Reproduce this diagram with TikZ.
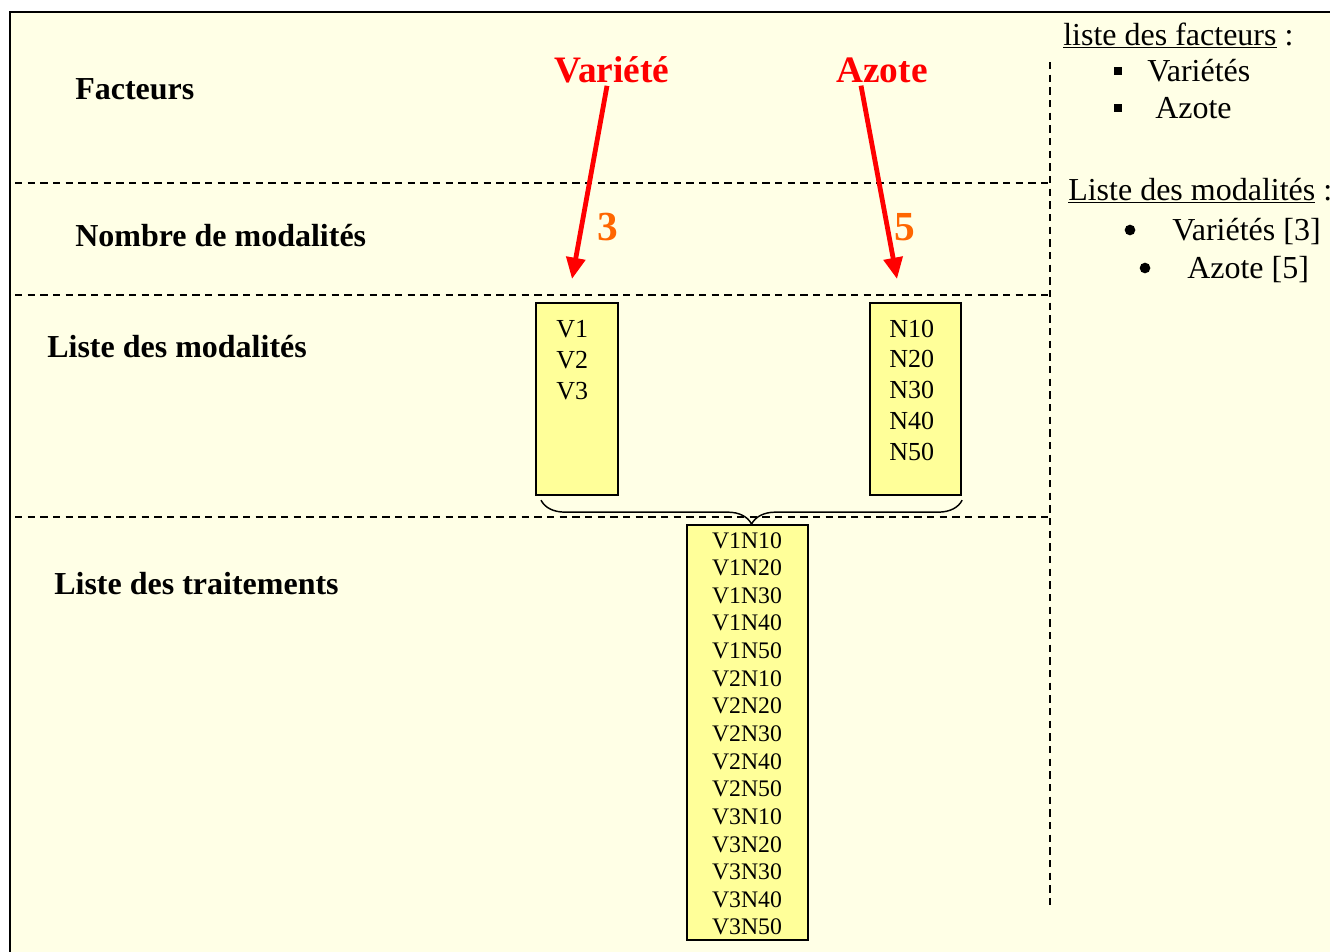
\documentclass[tikz,border=0pt]{standalone}
\usepackage{fontspec}
\setmainfont{Liberation Serif}
\usetikzlibrary{arrows.meta,decorations.pathreplacing,calc}
\definecolor{bg}{RGB}{255,255,230}
\definecolor{boxy}{RGB}{255,255,153}
\definecolor{orng}{RGB}{255,102,0}
\definecolor{redd}{RGB}{255,0,0}
\begin{document}
\begin{tikzpicture}[x=0.75pt,y=-0.75pt,
  lbl/.style={anchor=base west,inner sep=0pt,font=\fontsize{24}{28}\selectfont\bfseries},
  fac/.style={anchor=base,inner sep=0pt,text=redd,font=\fontsize{28}{32}\selectfont\bfseries},
  num/.style={anchor=base,inner sep=0pt,text=orng,font=\fontsize{31}{36}\selectfont\bfseries},
  side/.style={anchor=base west,inner sep=0pt,font=\fontsize{24}{28}\selectfont},
  itm/.style={anchor=base west,inner sep=0pt,font=\fontsize{19.5}{23}\selectfont},
  trt/.style={anchor=base,inner sep=0pt,font=\fontsize{17.8}{21}\selectfont},
  ybox/.style={draw=black,fill=boxy,line width=1.6pt,anchor=north west,inner sep=0pt},
  sep/.style={dash pattern=on 5.5pt off 4pt,line width=1.1pt},
  arr/.style={draw=redd,line width=3.6pt,-{Triangle[length=16pt,width=14pt]}}
]
\useasboundingbox (0,0) rectangle (1330,951);
\clip (0,0) rectangle (1330,951);
\fill[white] (0,0) rectangle (1330,951);
\draw[fill=bg,line width=1.8pt] (10,12) rectangle (1360,980);
% separators
\draw[sep] (15,183) -- (1050,183);
\draw[sep] (15,295) -- (1050,295);
\draw[sep] (15,517) -- (1050,517);
\draw[sep] (1050,62) -- (1050,910);
% left labels
\node[lbl] (lf) at (75,99) {Facteurs};
\node[lbl] (ln) at (75,246) {Nombre de modalités};
\node[lbl] (lm) at (47,357) {Liste des modalités};
\node[lbl] (lt) at (54,594) {Liste des traitements};
% factors
\node[fac] (var) at (612,82) {Variété};
\node[fac] (azo) at (882,82) {Azote};
\coordinate (vtip) at (572,279);
\coordinate (ntip) at (897,279);
\draw[arr] ($(var.south)+(-5,3)$) -- (vtip);
\draw[arr] ($(azo.south)+(-21,3)$) -- (ntip);
\node[num] (n3) at (608,240) {3};
\node[num] (n5) at (905,240) {5};
% boxes
\node[ybox,minimum width=61.5pt,minimum height=144pt] (boxV) at (535,302) {};
\node[ybox,minimum width=68.25pt,minimum height=144pt] (boxN) at (869,302) {};
\node[ybox,minimum width=90.75pt,minimum height=311.25pt] (boxT) at (686,524) {};
\foreach \t [count=\i from 0] in {V1,V2,V3}
  \node[itm] (v\i) at (556,337+31*\i) {\t};
\foreach \t [count=\i from 0] in {N10,N20,N30,N40,N50}
  \node[itm] (nn\i) at (889,337+30.8*\i) {\t};
\foreach \t [count=\i from 0] in {V1N10,V1N20,V1N30,V1N40,V1N50,V2N10,V2N20,V2N30,V2N40,V2N50,V3N10,V3N20,V3N30,V3N40,V3N50}
  \node[trt] (t\i) at (747,548+27.64*\i) {\t};
% brace
\draw[line width=1.1pt,decorate,decoration={brace,amplitude=18pt}]
  ($(boxN.south east)+(0,4)$) -- ($(boxV.south west)+(6,4)$);
% right side
\node[side] (sf) at (1063,45) {\underline{liste des facteurs} :};
\node[fill,inner sep=0pt,minimum size=6pt] (b1) at (1118,71) {};
\node[side] (s1) at (1147,81) {Variétés};
\node[fill,inner sep=0pt,minimum size=6pt] (b2) at (1118,108) {};
\node[side] (s2) at (1155,118) {Azote};
\node[side] (sm) at (1068,200) {\underline{Liste des modalités} :};
\node[fill,circle,inner sep=0pt,minimum size=8pt] (c1) at (1130,230) {};
\node[side] (m1) at (1172,240) {Variétés [3]};
\node[fill,circle,inner sep=0pt,minimum size=8pt] (c2) at (1145,268) {};
\node[side] (m2) at (1187,278) {Azote [5]};
\end{tikzpicture}
\end{document}
